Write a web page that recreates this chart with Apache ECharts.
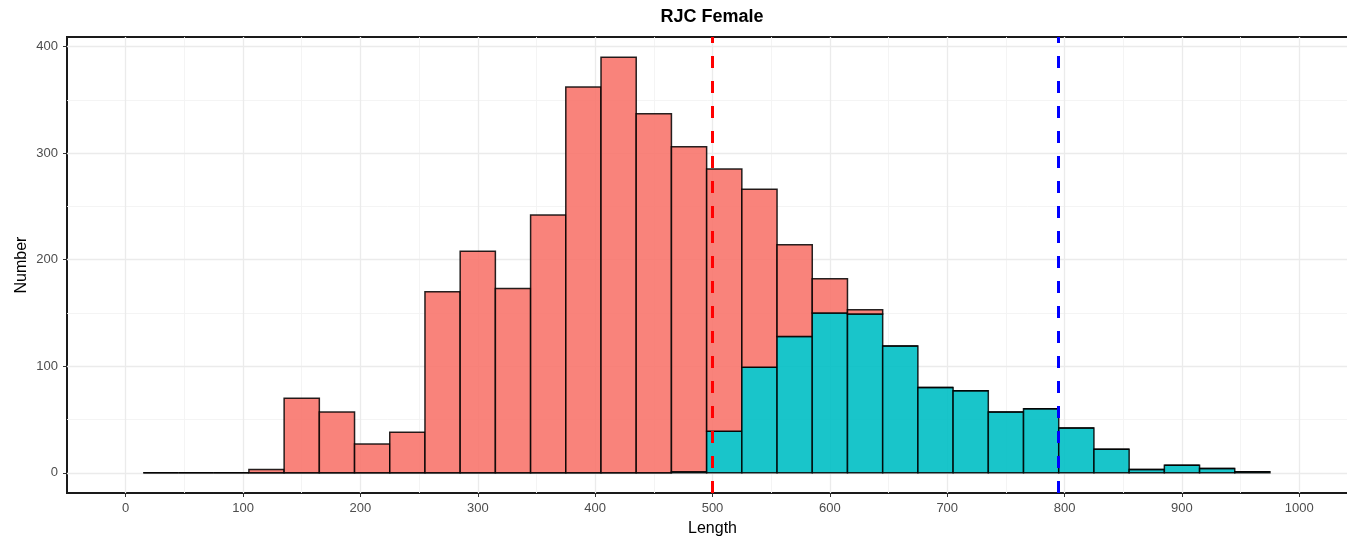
<!DOCTYPE html>
<html>
<head>
<meta charset="utf-8">
<title>RJC Female</title>
<script src="https://cdn.jsdelivr.net/npm/echarts@6/dist/echarts.min.js"></script>
<style>
  html, body { margin: 0; padding: 0; background: #ffffff; overflow: hidden; }
  #chart { width: 1347px; height: 538px; }
</style>
</head>
<body>
<div id="chart"></div>
<script>
// Length bins (centres, width 30)
const binCenters = [30, 60, 90, 120, 150, 180, 210, 240, 270, 300, 330, 360, 390, 420, 450, 480,
                    510, 540, 570, 600, 630, 660, 690, 720, 750, 780, 810, 840, 870, 900, 930, 960];
const binWidth = 30;

// Counts per bin: immature (red, stacked on top) and mature (teal, bottom)
const immatureCounts = [0, 0, 0, 3, 70, 57, 27, 38, 170, 208, 173, 242, 362, 390, 337, 305,
                        246, 167, 86, 32, 4, 0, 0, 0, 0, 0, 0, 0, 0, 0, 0, 0];
const matureCounts   = [0, 0, 0, 0, 0, 0, 0, 0, 0, 0, 0, 0, 0, 0, 0, 1,
                        39, 99, 128, 150, 149, 119, 80, 77, 57, 60, 42, 22, 3, 7, 4, 1];

// Reference lengths
const refLineRed = 500;
const refLineBlue = 795;

// Axis breaks
const xTicks = [0, 100, 200, 300, 400, 500, 600, 700, 800, 900, 1000];
const xMinor = [50, 150, 250, 350, 450, 550, 650, 750, 850, 950];
const yTicks = [0, 100, 200, 300, 400];
const yMinor = [50, 150, 250, 350];

const chart = echarts.init(document.getElementById('chart'), null, { renderer: 'canvas' });

const FILL_IMM = 'rgba(248,118,109,0.9)';
const FILL_MAT = 'rgba(0,191,196,0.9)';
const OUTLINE = 'rgba(0,0,0,0.85)';
const FONT = 'Liberation Sans, Arial, sans-serif';

function piece(api, x0, y0, x1, y1, fill) {
  const p0 = api.coord([x0, y0]);
  const p1 = api.coord([x1, y1]);
  if (y0 === y1) {
    return {
      type: 'line',
      shape: { x1: p0[0], y1: p0[1], x2: p1[0], y2: p1[1] },
      style: { stroke: OUTLINE, lineWidth: 1.5 }
    };
  }
  return {
    type: 'rect',
    shape: { x: p0[0], y: p1[1], width: p1[0] - p0[0], height: p0[1] - p1[1] },
    style: { fill: fill, stroke: OUTLINE, lineWidth: 1.5 }
  };
}

const barData = binCenters.map((c, i) => [c, matureCounts[i], immatureCounts[i]]);

const gridMarks = []
  .concat(xMinor.map(v => ({ xAxis: v, lineStyle: { color: '#F3F3F3', width: 0.9 } })))
  .concat(yMinor.map(v => ({ yAxis: v, lineStyle: { color: '#F3F3F3', width: 0.9 } })))
  .concat(xTicks.map(v => ({ xAxis: v, lineStyle: { color: '#EBEBEB', width: 1.3 } })))
  .concat(yTicks.map(v => ({ yAxis: v, lineStyle: { color: '#EBEBEB', width: 1.3 } })));

chart.setOption({
  animation: false,
  backgroundColor: '#ffffff',
  title: {
    text: 'RJC Female',
    left: 712,
    top: 8,
    padding: 0,
    textAlign: 'center',
    textStyle: { fontFamily: FONT, fontSize: 18, fontWeight: 'bold', color: '#000000' }
  },
  grid: {
    left: 67, top: 37, width: 1291, height: 456,
    outerBoundsMode: 'none',
    containLabel: false,
    show: true, borderColor: '#1a1a1a', borderWidth: 2, backgroundColor: 'transparent'
  },
  xAxis: {
    type: 'value',
    min: -50, max: 1050,
    name: 'Length',
    nameLocation: 'middle',
    nameGap: 28,
    nameTextStyle: { fontFamily: FONT, fontSize: 16, color: '#000000' },
    axisLine: { show: false, onZero: false },
    axisTick: { show: true, customValues: xTicks, length: 4, lineStyle: { color: '#333333', width: 1 } },
    axisLabel: {
      customValues: xTicks, margin: 9, fontFamily: FONT, fontSize: 13, color: '#4D4D4D',
      formatter: v => String(v)
    },
    splitLine: { show: false }
  },
  yAxis: {
    type: 'value',
    min: -19, max: 409,
    name: 'Number',
    nameLocation: 'middle',
    nameRotate: 90,
    nameGap: 37,
    nameMoveOverlap: false,
    nameTextStyle: { fontFamily: FONT, fontSize: 16, color: '#000000' },
    axisLine: { show: false, onZero: false },
    axisTick: { show: true, customValues: yTicks, length: 4, lineStyle: { color: '#333333', width: 1 } },
    axisLabel: {
      customValues: yTicks, margin: 9, fontFamily: FONT, fontSize: 13, color: '#4D4D4D',
      formatter: v => String(v)
    },
    splitLine: { show: false }
  },
  series: [
    {
      name: 'grid',
      type: 'line',
      data: [],
      z: 0,
      silent: true,
      markLine: {
        z: 0,
        silent: true,
        symbol: 'none',
        label: { show: false },
        animation: false,
        lineStyle: { type: 'solid' },
        data: gridMarks
      }
    },
    {
      name: 'Length',
      type: 'custom',
      z: 3,
      data: barData,
      encode: { x: 0, y: [1, 2] },
      renderItem: function (params, api) {
        const c = api.value(0);
        const mat = api.value(1);
        const imm = api.value(2);
        const x0 = c - binWidth / 2;
        const x1 = c + binWidth / 2;
        return {
          type: 'group',
          children: [
            piece(api, x0, 0, x1, mat, FILL_MAT),
            piece(api, x0, mat, x1, mat + imm, FILL_IMM)
          ]
        };
      },
      markLine: {
        z: 6,
        silent: true,
        symbol: 'none',
        label: { show: false },
        animation: false,
        lineStyle: { type: [12, 13], width: 3 },
        data: [
          { xAxis: refLineRed, lineStyle: { color: '#FF0000', type: [12, 13], width: 3 } },
          { xAxis: refLineBlue, lineStyle: { color: '#0000FF', type: [12, 13], width: 3 } }
        ]
      }
    }
  ]
});
</script>
</body>
</html>
